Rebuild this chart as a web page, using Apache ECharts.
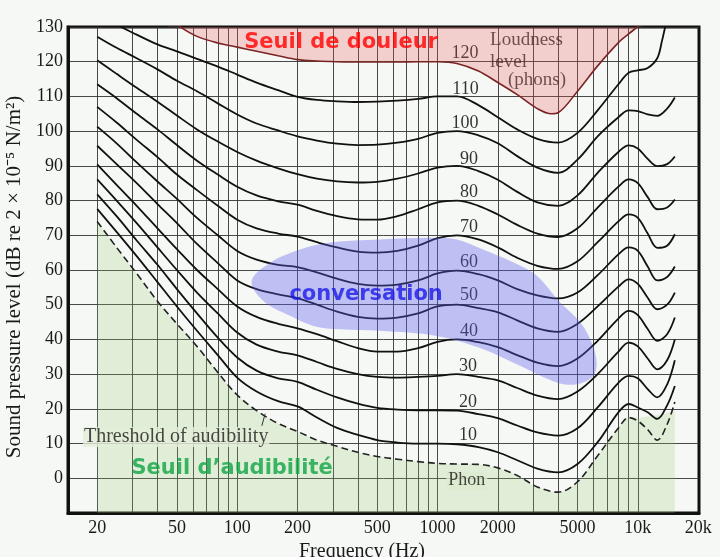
<!DOCTYPE html>
<html><head><meta charset="utf-8">
<script src="https://cdn.jsdelivr.net/npm/echarts@6/dist/echarts.min.js"></script>
<style>html,body{margin:0;padding:0;background:#f6f8f5}#c{width:720px;height:557px}</style>
</head><body><div id="c"></div>
<script>
// ---- data ----
const freqs = [20,25,31.5,40,50,63,80,100,125,160,200,250,315,400,500,630,800,1000,1250,1600,2000,2500,3150,4000,5000,6300,8000,9000,10000,11200,12500,14000,15300];
const phon100 = [127.2,124,121,117.8,114.5,111.5,108,104.8,102.2,100.2,98.5,97.3,96.4,96,96.1,96.7,97.8,99.5,100,98.8,96.5,92.8,89.5,88,91.8,98.5,104,106,105.8,104.8,104.4,106.5,109.7];
const phon90  = [120.4,116.5,112.5,108.5,104.5,100.5,97,94,91.5,89.3,87.6,86.3,85.5,85.2,85.4,86.3,87.8,89.5,90,88.5,86,82.5,79.5,78.5,81.5,88,94,95.9,95,92,89.9,90.5,92.7];
const phon80  = [113.5,109.5,105,100.5,96,91.5,87.5,84,81.5,79.8,78.8,77,75.5,74.6,74.5,75.5,77.5,79.5,80,78.5,76,73,70.5,69.5,72,78,84,86.1,85,81,77.5,78,80.3];
const phon70  = [107,102.5,97.5,92.5,87.5,83,78.5,74.5,72,70.5,69.6,68,66.5,65.3,65,65.5,67,69.2,70,68.8,66.5,63.5,61.2,60.3,62.5,68,74,76,75,70.5,66.4,67,70.3];
const phon60  = [101.3,96.5,91,85.5,80.5,75,70,65.5,63,61.5,60.8,59.3,57.5,56,55.5,55.8,57,59,59.8,58.8,57,54.5,52.7,51.8,53.5,58.5,64.5,66.5,65.5,61,57,58,61];
const phon50  = [95.8,90.5,85,79,73.5,67.5,62,57,54.5,53,51.9,50,48,46.5,46,46.3,47.5,49.5,50,49,47.8,45.5,43.2,42.2,44.5,49.5,55.2,57.3,56,52,48.7,50,53.5];
const phon40  = [90.4,84.5,78.5,72,66,60,54.5,49.5,46.5,44.5,43.2,41.5,39.5,37.5,36.5,36.5,37.5,39.3,40,39.2,37.8,35.5,33.3,32.3,34.5,39.6,46,48.2,47,43,39.6,41.5,46.3];
const phon30  = [86.1,80,73.5,66.5,60,53.5,47.5,42,38.5,36.5,35.4,33.5,31.5,30,29.2,29,29.2,29.5,30,29.2,28.2,26,23.8,22.8,25,30,36.5,39.1,38,34.5,31.4,34,40];
const phon20  = [81.8,75.5,68.5,61.5,54.5,47.5,40.5,34.8,31,28.8,27.8,25.5,23.3,21.5,20.3,19.8,19.6,19.6,19.5,18.5,17.3,15.2,13.2,12.3,14.4,20.4,27.5,29.5,28.8,25.7,23.3,27,34];
const phon10  = [77.6,71,64,56.5,49.5,42.5,35.5,29,25,22.2,20.7,17.5,14.5,12.5,11,10.3,10,10,9.8,9,7.5,5.2,2.8,1.7,4.1,10.4,19,21.4,20.4,19,17.1,21,26.6];
const threshold = [74,66.5,59,51,44.5,38,30.5,24,19.5,15.8,13.5,11,9.2,7.5,6.3,5.5,4.8,4.3,4.1,4,3,0.8,-2.5,-4,-1,6.5,14.5,17.5,16.5,14,11,15.5,22];

const freqs110 = [20,25,31.5,40,50,63,80,100,125,160,200,250,315,400,500,630,800,1000,1250,1600,2000,2500,3150,4000,5000,6300,8000,9000,10000,11200,12500,13200,13800];
const phon110  = [135,130.8,127.8,125,123,120.8,118.6,116.3,114,111.8,109.9,109,108.6,108.4,108.5,108.8,109.3,110,110,107.5,104,100.5,97.8,96.7,99.5,106,113.5,116.8,117.5,118.2,121,126,131];

const freqs120 = [45,52,63,80,100,125,160,200,250,315,400,500,630,800,1000,1250,1600,2000,2500,3150,3700,4000,5000,6300,8000,9000,10000,10600];
const phon120  = [132.5,130,127.3,125.4,124.2,123,121.7,120.6,120.2,120,119.9,119.9,119.9,120,120,119.5,117.3,114,110.5,106.5,105,105.3,111.5,118.8,125.5,128,130.2,132];

const fillFreqs = [20,25,31.5,40,50,63,80,100,125,160,200,250,315,400,500,630,800,1000,1250,1600,2000,2500,3150,4000,5000,6300,8000,9000,10000,11200,12500,14000,15300];
const fillTop   = [74,66.5,59,51,44.5,38,30.5,24,19.5,15.8,13.5,11,9.2,7.5,6.3,5.5,4.8,4.3,4.1,4,3,0.8,-2.5,-4,-1,6.5,14.5,17.5,17.5,17.8,18.2,18.8,19.5];

const conversationBlob = [[118,56.8],[146,62.1],[206,65.9],[291,67.9],[517,68.8],[917,69.3],[1247,68.8],[1688,65.9],[2381,62.2],[3138,58.3],[4088,50.7],[5144,45.0],[5882,39.1],[6230,33.4],[5993,29.5],[4952,27.1],[3936,27.6],[2582,32.4],[1694,37.2],[991,41.0],[517,42.5],[326,42.9],[240,43.9],[184,46.8],[135,51.1]];

const gridFreqs  = [20,30,40,50,60,70,80,90,100,200,300,400,500,600,700,800,900,1000,2000,3000,4000,5000,6000,7000,8000,9000,10000];
const labelFreqs = [20,50,100,200,500,1000,2000,5000,10000,20000];
const yTicks = [0,10,20,30,40,50,60,70,80,90,100,110,120,130];

const phonNames  = ['120','110','100','90','80','70','60','50','40','30','20','10'];
const phonLabelF = [1371,1380,1371,1436,1436,1436,1436,1436,1436,1420,1420,1420];
const phonLabelDb= [122.5,112.2,102.2,92,82.3,72.2,62.1,52.7,42.4,32.4,22,12.4];

// ---- chart ----
const serif = 'Liberation Serif';
const pair = (xs, ys) => xs.map((x, i) => [x, ys[i]]);
const curveStyle = {color: '#111', width: 1.8};
function curve(name, xs, ys, extra) {
  return Object.assign({
    name, type: 'line', data: pair(xs, ys), showSymbol: false, smooth: 0.35,
    lineStyle: curveStyle, z: 4, silent: true
  }, extra || {});
}
const series = [
  {type:'line', data: pair(fillFreqs, fillTop), showSymbol:false, smooth:0.35, lineStyle:{width:0},
   areaStyle:{color:'rgba(150,205,110,0.32)', origin:'start'}, z:1, silent:true},
  {type:'line', data: pair(freqs120, phon120), showSymbol:false, smooth:0.35,
   lineStyle:{color:'#7a2424', width:1.6}, areaStyle:{color:'rgba(232,85,85,0.36)', origin:'end'}, z:6, silent:true},
  curve('110', freqs110, phon110),
  curve('100', freqs, phon100),
  curve('90', freqs, phon90),
  curve('80', freqs, phon80),
  curve('70', freqs, phon70),
  curve('60', freqs, phon60),
  curve('50', freqs, phon50),
  curve('40', freqs, phon40),
  curve('30', freqs, phon30),
  curve('20', freqs, phon20),
  curve('10', freqs, phon10),
  curve('threshold', freqs, threshold, {lineStyle:{color:'#222', width:1.6, type:[7,4]},
    markLine:{silent:true, symbol:['none','arrow'], symbolSize:[0,7], lineStyle:{color:'#333', width:1, type:'solid'}, label:{show:false},
      data:[[{coord:[132.7,15.1]},{coord:[137.9,18.6]}]]}}),
  {type:'custom', data:[[1000,50]], z:7, silent:true, clip:true,
   renderItem:(params, api) => ({type:'polygon', shape:{points: conversationBlob.map(p => api.coord(p)), smooth:0.35},
     style:{fill:'rgba(92,92,238,0.36)'}})},
  {type:'scatter', symbolSize:0, z:5, silent:true,
   data: phonNames.map((t,i) => ({value:[phonLabelF[i], phonLabelDb[i]], name:t})),
   label:{show:true, position:'inside', formatter: p => p.name, fontFamily: serif, fontSize:18, color:'#000'}},
  {type:'scatter', symbolSize:0, z:5, silent:true,
   data:[
     {value:[1829,126.3], name:'Loudness', label:{align:'left', fontSize:19}},
     {value:[1829,120.0], name:'level', label:{align:'left', fontSize:19}},
     {value:[2249,114.8], name:'(phons)', label:{align:'left', fontSize:19}},
     {value:[1400,-0.7], name:'Phon', label:{backgroundColor:'#dcebd0', padding:[0,2]}},
     {value:[49.6,11.9], name:'Threshold of audibility', label:{fontSize:20, backgroundColor:'#e3eed9', padding:[0,1]}}
   ],
   label:{show:true, position:'inside', formatter: p => p.name, fontFamily: serif, fontSize:18, color:'#1a1a1a'}},
  {type:'scatter', symbolSize:0, z:9, silent:true,
   data:[
     {value:[330,125.5], name:'Seuil de douleur', label:{color:'#ff0000'}},
     {value:[440,53], name:'conversation', label:{color:'#1a1ae8'}},
     {value:[94.3,2.7], name:'Seuil d’audibilité', label:{color:'#0ca444'}}
   ],
   label:{show:true, position:'inside', formatter: p => p.name, fontFamily:'DejaVu Sans', fontWeight:'bold', fontSize:21}}
];

const chart = echarts.init(document.getElementById('c'), null, {renderer:'canvas', width:720, height:557});
chart.setOption({
  backgroundColor: '#f6f8f5',
  animation: false,
  grid: {left:68, right:21, top:27, bottom:44, show:true, borderColor:'#111', borderWidth:3, backgroundColor:'transparent',
         containLabel:false, outerBoundsMode:'none'},
  xAxis: {
    type:'log', logBase:10, min:14.3, max:20200,
    axisLine:{show:true, onZero:false, lineStyle:{color:'#111', width:3}},
    axisTick:{show:false, customValues: gridFreqs},
    axisLabel:{customValues: labelFreqs, margin:6, fontFamily: serif, fontSize:18, color:'#1a1a1a',
      formatter: v => v >= 10000 ? (v/1000)+'k' : String(v)},
    splitLine:{show:true, lineStyle:{color:'#333', width:0.9}},
    name:'Frequency (Hz)', nameLocation:'middle', nameGap:25,
    nameTextStyle:{fontFamily: serif, fontSize:20, color:'#1a1a1a', padding:[0,43,0,0]}
  },
  yAxis: {
    type:'value', min:-10, max:130, interval:10,
    axisLine:{show:true, lineStyle:{color:'#111', width:3}},
    axisTick:{show:false},
    axisLabel:{margin:5, fontFamily: serif, fontSize:18, color:'#1a1a1a', formatter: v => yTicks.includes(v) ? String(v) : ''},
    splitLine:{show:true, lineStyle:{color:'#333', width:0.9}},
    name:'Sound pressure level (dB re 2 × 10⁻⁵ N/m²)', nameLocation:'middle', nameRotate:90, nameGap:33,
    nameTextStyle:{fontFamily: serif, fontSize:21, color:'#1a1a1a', padding:[0,14,0,0]}
  },
  series
});
</script></body></html>
